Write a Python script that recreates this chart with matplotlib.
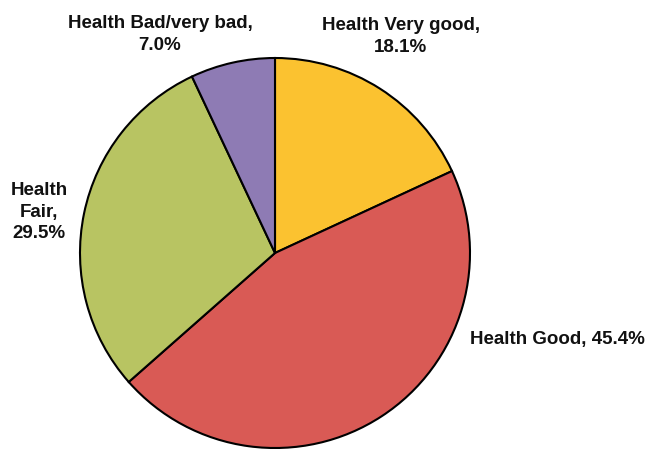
import matplotlib
matplotlib.use("Agg")
import matplotlib.pyplot as plt

categories = ["Health Very good", "Health Good", "Health Fair", "Health Bad/very bad"]
shares = [18.1, 45.4, 29.5, 7.0]
colors = ["#FBC230", "#D95A55", "#B8C462", "#8E7BB4"]

# label text per slice (line breaks as laid out around the pie)
label_text = [
    f"Health Very good,\n{shares[0]:.1f}%",
    f"Health Good, {shares[1]:.1f}%",
    f"Health\nFair,\n{shares[2]:.1f}%",
    f"Health Bad/very bad,\n{shares[3]:.1f}%",
]
label_pos = [(0.645, 1.11), (1.45, -0.445), (-1.21, 0.21), (-0.59, 1.12)]

plt.rcParams["font.family"] = ["Liberation Sans", "DejaVu Sans"]

W, H = 647, 450
fig = plt.figure(figsize=(W / 100, H / 100), dpi=100)
cx, cy, r = 275, 253, 195
ax = fig.add_axes([(cx - r) / W, (H - cy - r) / H, 2 * r / W, 2 * r / H])

ax.pie(shares, colors=colors, startangle=90, counterclock=False,
       radius=1.0,
       wedgeprops=dict(edgecolor="black", linewidth=1.5))
ax.set_xlim(-1, 1)
ax.set_ylim(-1, 1)
ax.set_aspect("equal")
ax.axis("off")

for txt, (x, y) in zip(label_text, label_pos):
    ax.text(x, y, txt, ha="center", va="center", fontsize=13.5,
            fontweight="bold", color="#111111", linespacing=1.35,
            clip_on=False)

fig.savefig("out.png", dpi=100)
